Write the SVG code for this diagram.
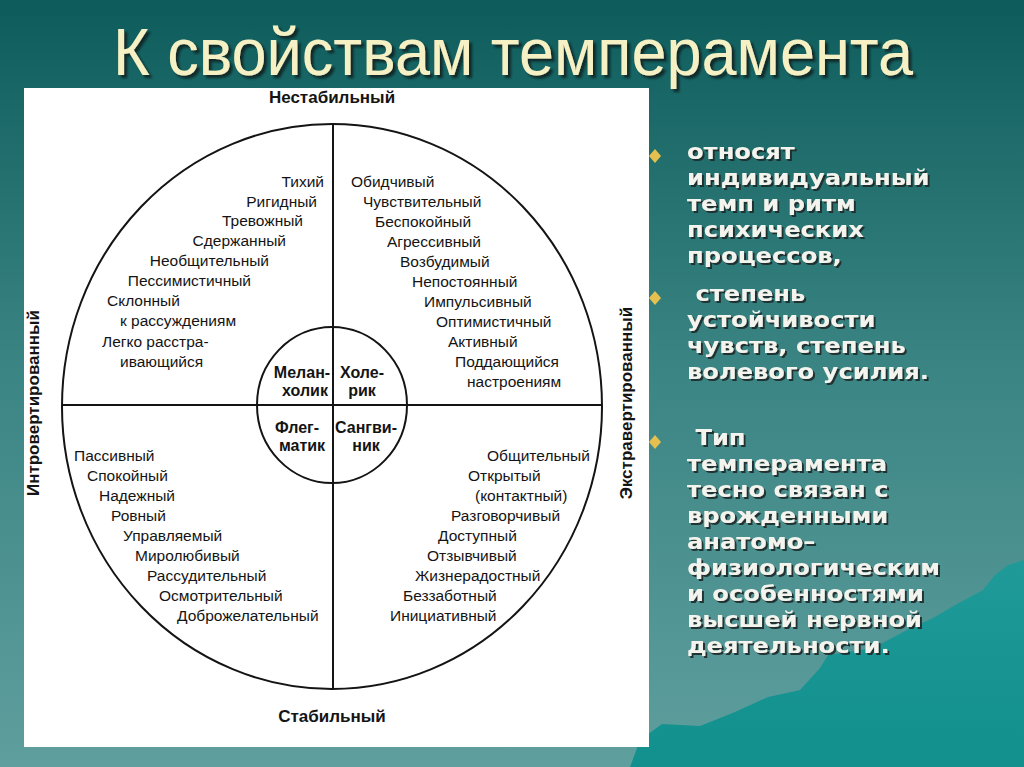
<svg xmlns="http://www.w3.org/2000/svg" width="1024" height="767" viewBox="0 0 1024 767">
  <defs>
    <linearGradient id="bg" x1="0" y1="0" x2="0" y2="1">
      <stop offset="0" stop-color="#0d5c5b"/>
      <stop offset="0.45" stop-color="#388382"/>
      <stop offset="1" stop-color="#5f9f9e"/>
    </linearGradient>
    <linearGradient id="mt" x1="0" y1="0" x2="0" y2="1">
      <stop offset="0" stop-color="#1f9a98"/>
      <stop offset="1" stop-color="#11908e"/>
    </linearGradient>
    <filter id="sh" x="-5%" y="-20%" width="110%" height="140%">
      <feDropShadow dx="2" dy="2" stdDeviation="0.6" flood-color="#1a2a2a" flood-opacity="0.9"/>
    </filter>
    <filter id="tsh" x="-5%" y="-20%" width="110%" height="140%">
      <feDropShadow dx="3" dy="3" stdDeviation="1.2" flood-color="#0a1a1a" flood-opacity="0.85"/>
    </filter>
    <style>
      .q { font-family: "Liberation Sans", Arial, sans-serif; font-size: 15.5px; fill: #141414; }
      .ax { font-family: "Liberation Sans", Arial, sans-serif; font-size: 17px; font-weight: bold; fill: #141414; }
      .tp { font-family: "Liberation Sans", Arial, sans-serif; font-size: 16px; font-weight: bold; fill: #141414; text-anchor: middle; }
      .rt { font-family: "DejaVu Sans", Verdana, sans-serif; font-size: 22px; font-weight: bold; fill: #f4f4ee; }
      .ln { stroke: #141414; stroke-width: 2; fill: none; }
    </style>
  </defs>

  <g id="background">
    <rect x="0" y="0" width="1024" height="767" fill="url(#bg)"/>
    <path d="M630,767 L640,740 L662,724 L700,726 L735,712 L768,697 L800,690 L820,668 L828,655 L873,648 L907,630 L933,618 L957,604 L983,590 L995,575 L1008,565 L1024,560 L1024,767 Z" fill="url(#mt)"/>
  </g>

  <g id="title">
    <text x="113" y="75" textLength="800" lengthAdjust="spacingAndGlyphs" font-family="Liberation Sans, Arial, sans-serif" font-size="67" fill="#f6f1c4" filter="url(#tsh)">К свойствам темперамента</text>
  </g>

  <g id="panel">
    <rect x="24" y="88" width="625" height="659" fill="#ffffff"/>
  </g>

  <g id="connectors">
    <ellipse cx="332" cy="406.5" rx="270" ry="282.5" class="ln" stroke-width="2.5"/>
    <line x1="333" y1="124" x2="333" y2="689" class="ln"/>
    <line x1="62" y1="405" x2="602" y2="405" class="ln"/>
    <ellipse cx="332" cy="405" rx="75" ry="78" class="ln" stroke-width="4"/>
  </g>

  <g id="axis-labels">
    <text x="332" y="103" class="ax" text-anchor="middle">Нестабильный</text>
    <text x="332" y="722" class="ax" text-anchor="middle">Стабильный</text>
    <text transform="translate(39,403) rotate(-90)" class="ax" text-anchor="middle">Интровертированный</text>
    <text transform="translate(632,403) rotate(-90)" class="ax" text-anchor="middle">Экстравертированный</text>
  </g>

  <g id="melancholic-traits" class="q" text-anchor="end">
    <text x="324" y="187">Тихий</text>
    <text x="317" y="207">Ригидный</text>
    <text x="303" y="226">Тревожный</text>
    <text x="286" y="246">Сдержанный</text>
    <text x="269" y="266">Необщительный</text>
    <text x="251" y="286">Пессимистичный</text>
    <text x="107" y="306" text-anchor="start">Склонный</text>
    <text x="120" y="326" text-anchor="start">к рассуждениям</text>
    <text x="102" y="347" text-anchor="start">Легко расстра-</text>
    <text x="120" y="367" text-anchor="start">ивающийся</text>
  </g>

  <g id="choleric-traits" class="q">
    <text x="351" y="187">Обидчивый</text>
    <text x="363" y="207">Чувствительный</text>
    <text x="375" y="227">Беспокойный</text>
    <text x="387" y="247">Агрессивный</text>
    <text x="400" y="267">Возбудимый</text>
    <text x="412" y="287">Непостоянный</text>
    <text x="424" y="307">Импульсивный</text>
    <text x="436" y="327">Оптимистичный</text>
    <text x="448" y="347">Активный</text>
    <text x="455" y="367">Поддающийся</text>
    <text x="467" y="387">настроениям</text>
  </g>

  <g id="phlegmatic-traits" class="q">
    <text x="74" y="461">Пассивный</text>
    <text x="87" y="481">Спокойный</text>
    <text x="99" y="501">Надежный</text>
    <text x="111" y="521">Ровный</text>
    <text x="123" y="541">Управляемый</text>
    <text x="135" y="561">Миролюбивый</text>
    <text x="147" y="581">Рассудительный</text>
    <text x="159" y="601">Осмотрительный</text>
    <text x="177" y="621">Доброжелательный</text>
  </g>

  <g id="sanguine-traits" class="q">
    <text x="487" y="461">Общительный</text>
    <text x="468" y="481">Открытый</text>
    <text x="475" y="501">(контактный)</text>
    <text x="451" y="521">Разговорчивый</text>
    <text x="438" y="541">Доступный</text>
    <text x="427" y="561">Отзывчивый</text>
    <text x="415" y="581">Жизнерадостный</text>
    <text x="403" y="601">Беззаботный</text>
    <text x="390" y="621">Инициативный</text>
  </g>

  <g id="melancholic">
    <text x="302" y="378" class="tp">Мелан-</text>
    <text x="305" y="396" class="tp">холик</text>
  </g>
  <g id="choleric">
    <text x="362" y="378" class="tp">Холе-</text>
    <text x="362" y="396" class="tp">рик</text>
  </g>
  <g id="phlegmatic">
    <text x="297" y="433" class="tp">Флег-</text>
    <text x="302" y="451" class="tp">матик</text>
  </g>
  <g id="sanguine">
    <text x="366" y="433" class="tp">Сангви-</text>
    <text x="366" y="451" class="tp">ник</text>
  </g>

  <g id="bullets" fill="#e6c04e">
    <polygon points="649,156 655,149 661,156 655,163"/>
    <polygon points="649,298 655,291 661,298 655,305"/>
    <polygon points="649,442 655,435 661,442 655,449"/>
  </g>

  <g id="notes" filter="url(#sh)">
    <g class="rt" transform="translate(687,0) scale(1.1,1)">
      <text x="0" y="159">относят</text>
      <text x="0" y="185">индивидуальный</text>
      <text x="0" y="211">темп и ритм</text>
      <text x="0" y="237">психических</text>
      <text x="0" y="263">процессов,</text>
      <text x="0" y="301" xml:space="preserve"> степень</text>
      <text x="0" y="327">устойчивости</text>
      <text x="0" y="353">чувств, степень</text>
      <text x="0" y="379">волевого усилия.</text>
      <text x="0" y="445" xml:space="preserve"> Тип</text>
      <text x="0" y="471">темперамента</text>
      <text x="0" y="497">тесно связан с</text>
      <text x="0" y="523">врожденными</text>
      <text x="0" y="549">анатомо–</text>
      <text x="0" y="575">физиологическим</text>
      <text x="0" y="601">и особенностями</text>
      <text x="0" y="627">высшей нервной</text>
      <text x="0" y="653">деятельности.</text>
    </g>
  </g>
</svg>
